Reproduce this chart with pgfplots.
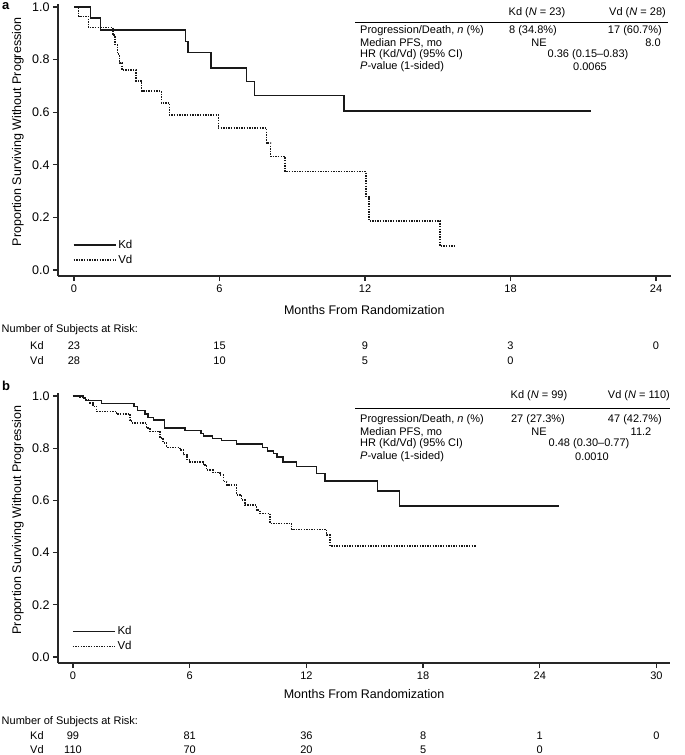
\documentclass[border=0pt]{standalone}
\usepackage{pgfplots}
\pgfplotsset{compat=1.18}
\usepackage{fontspec}
\setmainfont{Liberation Sans}

\newcommand{\fs}[1]{\fontsize{#1}{#1}\selectfont}

\pgfplotsset{
  kmaxis/.style={
    scale only axis,
    axis x line*=bottom, axis y line*=left,
    axis line style={line width=1.3pt, black!85},
    tick align=outside, major tick length=5pt,
    major tick style={line width=1.2pt, black!85},
    ytick={0,0.2,0.4,0.6,0.8,1},
    ymin=-0.023, ymax=1.01,
    /pgf/number format/assume math mode=true,
    yticklabel style={font=\fs{12.5}, /pgf/number format/.cd, fixed, fixed zerofill, precision=1, assume math mode=true},
    xticklabel style={font=\fs{11}},
    every axis y label/.style={at={([xshift=-40pt]axis description cs:0,0.53)}, rotate=90, anchor=center, font=\fs{12.5}},
    ylabel={Proportion Surviving Without Progression},
    xlabel={Months From Randomization},
    legend cell align=left,
    legend image code/.code={\draw[#1] (0pt,0pt) -- (42pt,0pt);},
    legend style={draw=none, fill=none, inner sep=0pt, outer sep=0pt, font=\fs{11.5}, row sep=1pt},
    kd/.style={const plot, black!90, line width=1.5pt},
    vd/.style={const plot, black!90, line width=1.5pt, dash pattern=on 1.4pt off 1.2pt},
    clip=false,
  }
}

\begin{document}
\begin{tikzpicture}
\useasboundingbox (0,0) rectangle (685pt,-755pt);

% ---------------- Panel a ----------------
\begin{axis}[kmaxis,
  at={(58pt,-276pt)}, anchor=south west,
  width=612.6pt, height=271.7pt,
  xmin=-0.66, xmax=24.6,
  xtick={0,6,12,18,24},
  every axis x label/.style={at={(axis description cs:0.5,0)}, anchor=center, yshift=-34pt, font=\fs{12.5}},
  legend style={at={(axis cs:-0.05,0.0665)}, anchor=west},
]
\addplot[kd] coordinates {
(0,1.0) (0.69,0.957) (1.1,0.913) (4.59,0.869) (4.7,0.826) (5.64,0.768)
(7.12,0.716) (7.44,0.663) (11.13,0.605) (21.3,0.605)};
\addlegendentry{Kd}
\addplot[vd] coordinates {
(0,1.0) (0.19,0.964) (0.59,0.922) (1.6,0.893) (1.69,0.857) (1.79,0.821)
(1.87,0.786) (1.98,0.76) (2.56,0.719) (2.79,0.68) (3.6,0.635) (3.93,0.589)
(5.95,0.539) (7.94,0.482) (8.11,0.431) (8.7,0.374) (12.04,0.279) (12.16,0.186)
(15.09,0.091) (15.7,0.091)};
\addlegendentry{Vd}
\end{axis}

% table a
\begin{scope}[every node/.style={font=\fs{11}, inner sep=0pt}]
\node at (537pt,-13pt) {Kd (\textit{N} = 23)};
\node[anchor=east] at (666pt,-13pt) {Vd (\textit{N} = 28)};
\draw[line width=1pt] (355pt,-22pt) -- (668pt,-22pt);
\node[anchor=west] at (360pt,-31pt) {Progression/Death, \textit{n} (\%)};
\node[anchor=west] at (360pt,-43pt) {Median PFS, mo};
\node[anchor=west] at (360pt,-55pt) {HR (Kd/Vd) (95\% CI)};
\node[anchor=west] at (360pt,-67pt) {\textit{P}-value (1-sided)};
\node at (533pt,-31pt) {8 (34.8\%)};
\node[anchor=east] at (662pt,-31pt) {17 (60.7\%)};
\node at (539pt,-43pt) {NE};
\node at (653pt,-43pt) {8.0};
\node at (588pt,-55pt) {0.36 (0.15--0.83)};
\node at (590pt,-67pt) {0.0065};
% at risk a
\node[anchor=west] at (1.5pt,-330pt) {Number of Subjects at Risk:};
\node[anchor=west] at (30pt,-345.7pt) {Kd};
\node[anchor=west] at (30pt,-360.7pt) {Vd};
\node at (74pt,-345.7pt) {23};
\node at (219.5pt,-345.7pt) {15};
\node at (365pt,-345.7pt) {9};
\node at (510.5pt,-345.7pt) {3};
\node at (656pt,-345.7pt) {0};
\node at (74pt,-360.7pt) {28};
\node at (219.5pt,-360.7pt) {10};
\node at (365pt,-360.7pt) {5};
\node at (510.5pt,-360.7pt) {0};
\end{scope}
\node[anchor=north west, inner sep=0pt, font=\bfseries\fs{13}] at (2pt,-2pt) {a};

% ---------------- Panel b ----------------
\begin{axis}[kmaxis,
  at={(58pt,-663pt)}, anchor=south west,
  width=612.1pt, height=269.6pt,
  xmin=-0.77, xmax=30.7,
  xtick={0,6,12,18,24,30},
  every axis x label/.style={at={(axis description cs:0.5,0)}, anchor=center, yshift=-31pt, font=\fs{12.5}},
  legend style={at={(axis cs:-0.05,0.069)}, anchor=west},
]
\addplot[kd] coordinates {
(0,1.0) (0.53,0.993) (0.65,0.983) (1.47,0.972) (3.15,0.96) (3.32,0.945)
(3.7,0.932) (3.87,0.918) (4.13,0.909) (4.7,0.877) (5.76,0.867) (6.58,0.857)
(6.7,0.847) (7.18,0.838) (7.64,0.829) (8.41,0.816) (9.75,0.803) (9.99,0.79)
(10.3,0.78) (10.5,0.767) (10.8,0.748) (11.5,0.729) (12.53,0.703) (12.96,0.675)
(15.65,0.636) (16.8,0.579) (25.0,0.579)};
\addlegendentry{Kd}
\addplot[vd] coordinates {
(0,1.0) (0.36,0.995) (0.65,0.986) (0.87,0.973) (1.04,0.96) (1.22,0.941)
(2.24,0.931) (2.93,0.909) (3.02,0.897) (3.79,0.877) (3.96,0.865) (4.47,0.839)
(4.64,0.82) (4.82,0.803) (5.5,0.794) (5.67,0.775) (5.85,0.756) (6.0,0.747)
(6.7,0.736) (6.87,0.716) (7.21,0.706) (7.56,0.697) (7.73,0.672) (7.9,0.659)
(8.41,0.621) (8.67,0.601) (8.84,0.582) (9.44,0.563) (9.61,0.55) (10.13,0.512)
(11.24,0.489) (13.04,0.467) (13.21,0.425) (20.7,0.425)};
\addlegendentry{Vd}
\end{axis}

\begin{scope}[every node/.style={font=\fs{11}, inner sep=0pt}]
\node at (539pt,-396pt) {Kd (\textit{N} = 99)};
\node[anchor=east] at (670pt,-396pt) {Vd (\textit{N} = 110)};
\draw[line width=1pt] (355pt,-408pt) -- (670pt,-408pt);
\node[anchor=west] at (360pt,-419.5pt) {Progression/Death, \textit{n} (\%)};
\node[anchor=west] at (360pt,-431.8pt) {Median PFS, mo};
\node[anchor=west] at (360pt,-444pt) {HR (Kd/Vd) (95\% CI)};
\node[anchor=west] at (360pt,-456.3pt) {\textit{P}-value (1-sided)};
\node at (538pt,-419.5pt) {27 (27.3\%)};
\node[anchor=east] at (662pt,-419.5pt) {47 (42.7\%)};
\node at (539pt,-431.8pt) {NE};
\node at (641pt,-431.8pt) {11.2};
\node at (589pt,-444pt) {0.48 (0.30--0.77)};
\node at (592pt,-456.3pt) {0.0010};
% at risk b
\node[anchor=west] at (1.5pt,-721.7pt) {Number of Subjects at Risk:};
\node[anchor=west] at (30pt,-736pt) {Kd};
\node[anchor=west] at (30pt,-750pt) {Vd};
\node at (73pt,-736pt) {99};
\node at (189.7pt,-736pt) {81};
\node at (306.4pt,-736pt) {36};
\node at (423.1pt,-736pt) {8};
\node at (539.8pt,-736pt) {1};
\node at (656.5pt,-736pt) {0};
\node at (73pt,-750pt) {110};
\node at (189.7pt,-750pt) {70};
\node at (306.4pt,-750pt) {20};
\node at (423.1pt,-750pt) {5};
\node at (539.8pt,-750pt) {0};
\end{scope}
\node[anchor=north west, inner sep=0pt, font=\bfseries\fs{13}] at (2pt,-381pt) {b};

\end{tikzpicture}
\end{document}
